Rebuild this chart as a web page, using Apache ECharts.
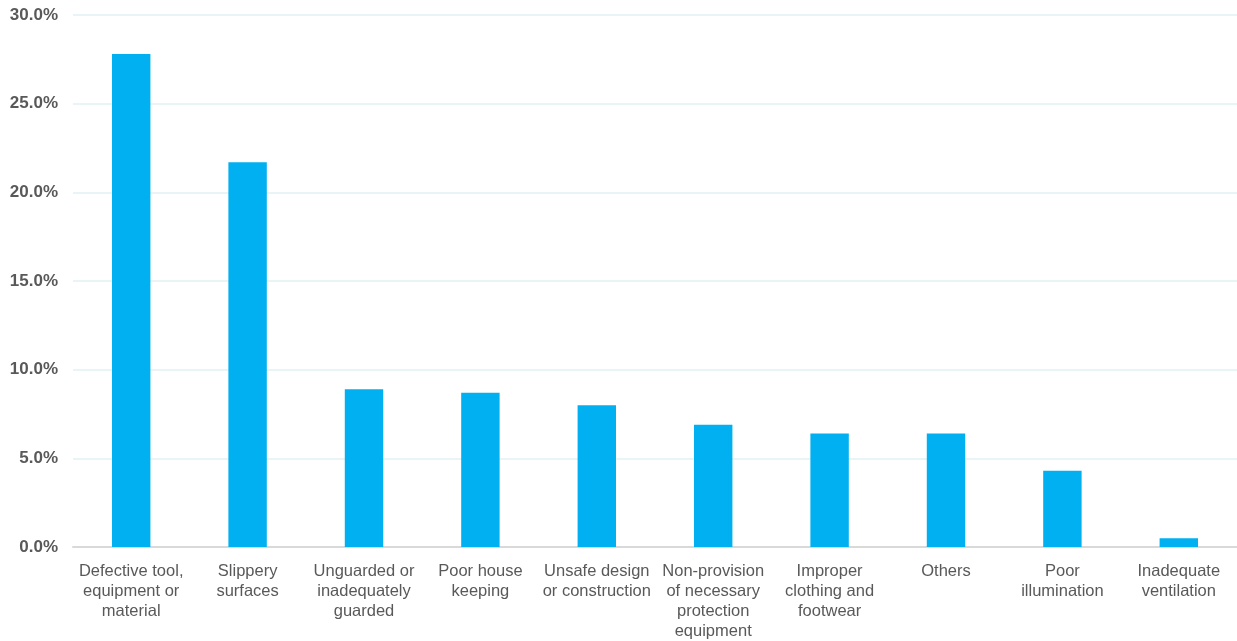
<!DOCTYPE html>
<html>
<head>
<meta charset="utf-8">
<script src="https://cdn.jsdelivr.net/npm/echarts@6/dist/echarts.min.js"></script>
<style>
  html, body { margin: 0; padding: 0; background: #fff; }
  #chart { width: 1237px; height: 641px; }
</style>
</head>
<body>
<div id="chart"></div>
<script>
// categories (line breaks as in the original labels)
const categories = [
  'Defective tool,\nequipment or\nmaterial',
  'Slippery\nsurfaces',
  'Unguarded or\ninadequately\nguarded',
  'Poor house\nkeeping',
  'Unsafe design\nor construction',
  'Non-provision\nof necessary\nprotection\nequipment',
  'Improper\nclothing and\nfootwear',
  'Others',
  'Poor\nillumination',
  'Inadequate\nventilation'
];
// share of accidents, percent
const shares = [27.8, 21.7, 8.9, 8.7, 8.0, 6.9, 6.4, 6.4, 4.3, 0.5];

const chart = echarts.init(document.getElementById('chart'));
chart.setOption({
  animation: false,
  grid: { left: 73, right: 0, top: 15, bottom: 89 },
  xAxis: {
    type: 'category',
    data: categories,
    axisTick: { show: false },
    axisLine: { lineStyle: { color: '#d9d9d9', width: 2 } },
    axisLabel: {
      interval: 0,
      color: '#595959',
      fontFamily: 'Liberation Sans, Arial, sans-serif',
      fontSize: 16.5,
      lineHeight: 20,
      margin: 14
    }
  },
  yAxis: {
    type: 'value',
    min: 0,
    max: 30,
    interval: 5,
    axisLine: { show: false },
    axisTick: { show: false },
    splitLine: { lineStyle: { color: '#e9f4f6', width: 2 } },
    axisLabel: {
      color: '#595959',
      fontWeight: 'bold',
      fontFamily: 'Liberation Sans, Arial, sans-serif',
      fontSize: 17,
      margin: 15,
      formatter: v => v.toFixed(1) + '%'
    }
  },
  series: [{
    type: 'bar',
    data: shares,
    barWidth: '33%',
    itemStyle: { color: '#00b0f0' }
  }]
});
</script>
</body>
</html>
